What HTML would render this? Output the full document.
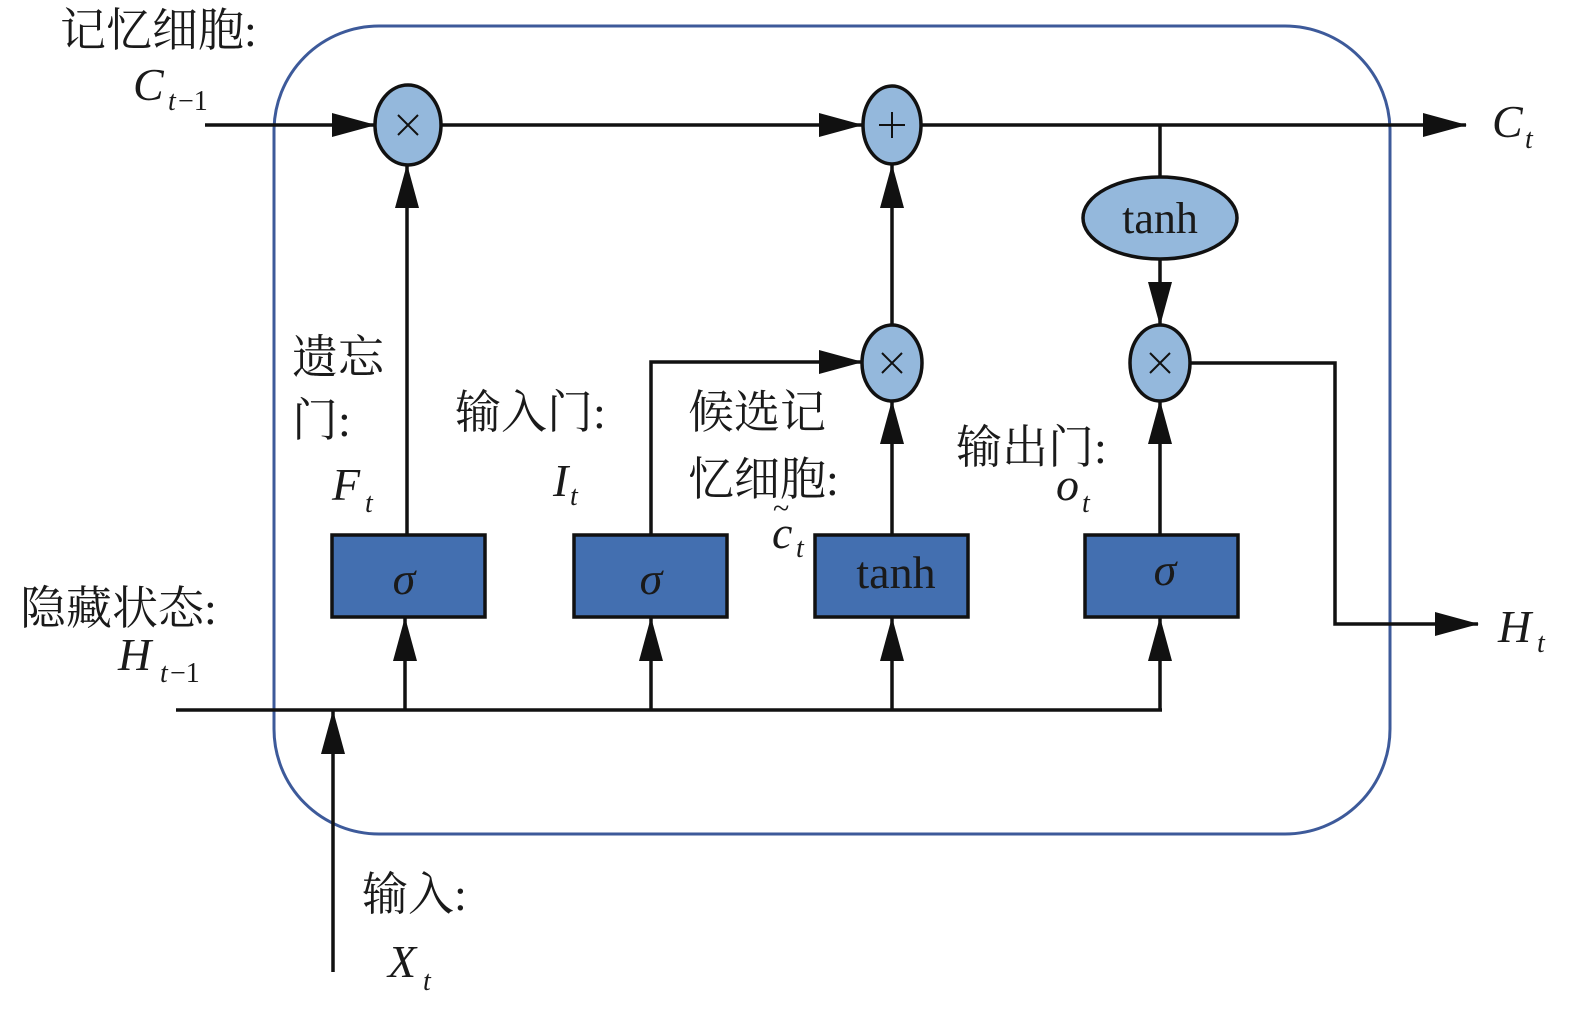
<!DOCTYPE html>
<html><head><meta charset="utf-8"><style>
html,body{margin:0;padding:0;background:#fff}
svg{display:block}
text{font-family:"Liberation Serif","Noto Serif CJK SC",serif;fill:#1a1a1a}
.cn{font-size:46px}
.it{font-style:italic;font-size:46px}
.sub{font-style:italic;font-size:28px}
</style></head><body>
<svg width="1575" height="1012" viewBox="0 0 1575 1012" xmlns="http://www.w3.org/2000/svg">
<defs>
<marker id="a" markerWidth="14" markerHeight="10" refX="13" refY="5" orient="auto" markerUnits="userSpaceOnUse"><path d="M0,0 L14,5 L0,10 z" fill="#111"/></marker>
<marker id="b" markerWidth="44" markerHeight="24" refX="43" refY="12" orient="auto" markerUnits="userSpaceOnUse"><path d="M0,0 L44,12 L0,24 z" fill="#111"/></marker>
</defs>
<rect x="274" y="26" width="1116" height="808" rx="105" ry="105" fill="none" stroke="#3d5a9a" stroke-width="3"/>
<g stroke="#111" stroke-width="3.5" fill="none">
<line x1="205" y1="125" x2="375" y2="125" marker-end="url(#b)"/>
<line x1="441" y1="125" x2="862" y2="125" marker-end="url(#b)"/>
<line x1="921" y1="125" x2="1466" y2="125" marker-end="url(#b)"/>
<line x1="1160" y1="125" x2="1160" y2="178"/>
<line x1="1160" y1="259" x2="1160" y2="325" marker-end="url(#b)"/>
<line x1="407" y1="535" x2="407" y2="165" marker-end="url(#b)"/>
<polyline points="651,535 651,362 862,362" marker-end="url(#b)"/>
<line x1="892" y1="535" x2="892" y2="401" marker-end="url(#b)"/>
<line x1="892" y1="326" x2="892" y2="165" marker-end="url(#b)"/>
<line x1="1160" y1="535" x2="1160" y2="401" marker-end="url(#b)"/>
<polyline points="1190,363 1335,363 1335,624 1478,624" marker-end="url(#b)"/>
<line x1="176" y1="710" x2="1162" y2="710"/>
<line x1="405" y1="710" x2="405" y2="618" marker-end="url(#b)"/>
<line x1="651" y1="710" x2="651" y2="618" marker-end="url(#b)"/>
<line x1="892" y1="710" x2="892" y2="618" marker-end="url(#b)"/>
<line x1="1160" y1="710" x2="1160" y2="618" marker-end="url(#b)"/>
<line x1="333" y1="972" x2="333" y2="711" marker-end="url(#b)"/>
</g>
<g fill="#94b8dc" stroke="#111" stroke-width="3.5">
<ellipse cx="408" cy="125" rx="33" ry="40"/>
<ellipse cx="892" cy="125" rx="29" ry="39"/>
<ellipse cx="892" cy="363" rx="30" ry="38"/>
<ellipse cx="1160" cy="363" rx="30" ry="38"/>
<ellipse cx="1160" cy="218" rx="77" ry="41"/>
</g>
<g stroke="#111" stroke-width="2">
<path d="M398,115 L418,135 M418,115 L398,135"/>
<path d="M882,353 L902,373 M902,353 L882,373"/>
<path d="M1150,353 L1170,373 M1170,353 L1150,373"/>
<path d="M892,112 L892,138 M879,125 L905,125"/>
</g>
<g fill="#436fb0" stroke="#111" stroke-width="3.5">
<rect x="332" y="535" width="153" height="82"/>
<rect x="574" y="535" width="153" height="82"/>
<rect x="815" y="535" width="153" height="82"/>
<rect x="1085" y="535" width="153" height="82"/>
</g>
<text x="1160" y="233" font-size="44" text-anchor="middle">tanh</text>
<text x="896" y="588" font-size="46" text-anchor="middle">tanh</text>
<text class="it" x="404" y="594" text-anchor="middle">σ</text>
<text class="it" x="651" y="594" text-anchor="middle">σ</text>
<text class="it" x="1165" y="585" text-anchor="middle">σ</text>
<text class="cn" x="60" y="46">记忆细胞:</text>
<text class="it" x="133" y="100">C</text><text class="sub" x="168" y="110">t</text><text x="178" y="110" font-size="28">−1</text>
<text class="cn" x="20" y="624">隐藏状态:</text>
<text class="it" x="118" y="670">H</text><text class="sub" x="160" y="682">t</text><text x="170" y="682" font-size="28">−1</text>
<text class="cn" x="292" y="373">遗忘</text>
<text class="cn" x="292" y="436">门:</text>
<text class="it" x="332" y="500">F</text><text class="sub" x="365" y="512">t</text>
<text class="cn" x="455" y="428">输入门:</text>
<text class="it" x="553" y="496">I</text><text class="sub" x="570" y="505">t</text>
<text class="cn" x="688" y="428">候选记</text>
<text class="cn" x="688" y="495">忆细胞:</text>
<text class="it" x="772" y="548">c</text><text x="773" y="518" font-size="30">~</text><text class="sub" x="796" y="557">t</text>
<text class="cn" x="956" y="463">输出门:</text>
<text class="it" x="1056" y="500">o</text><text class="sub" x="1082" y="512">t</text>
<text class="cn" x="362" y="910">输入:</text>
<text class="it" x="388" y="977">X</text><text class="sub" x="423" y="990">t</text>
<text class="it" x="1492" y="137">C</text><text class="sub" x="1525" y="148">t</text>
<text class="it" x="1498" y="642">H</text><text class="sub" x="1537" y="652">t</text>
</svg>
</body></html>
